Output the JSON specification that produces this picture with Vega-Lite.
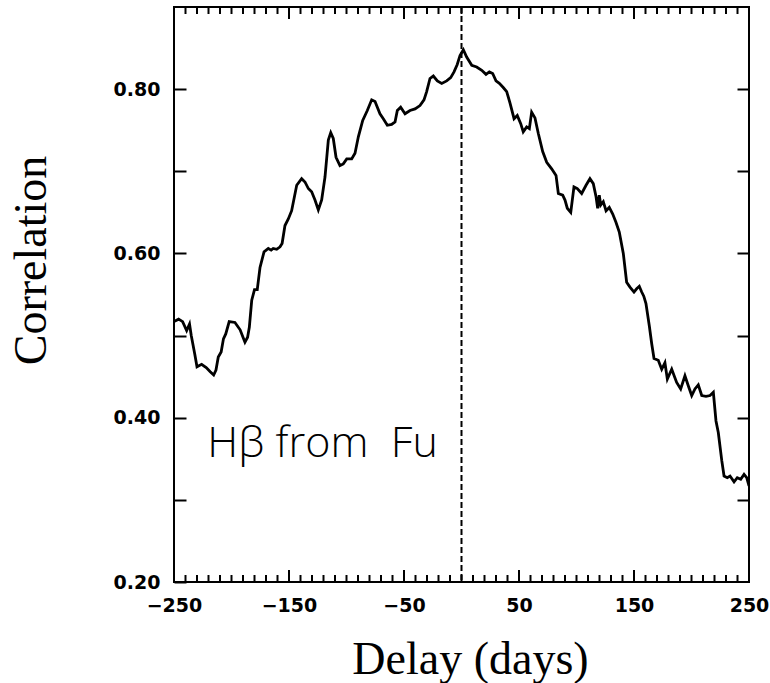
{
  "$schema": "https://vega.github.io/schema/vega-lite/v6.json",
  "width": 575,
  "height": 575,
  "autosize": {"type": "none"},
  "padding": {"left": 174, "top": 7, "right": 21, "bottom": 101},
  "background": "white",
  "view": {"stroke": "black", "strokeWidth": 2},
  "config": {
    "axis": {"grid": false, "domain": false, "tickColor": "black", "tickWidth": 2, "labelColor": "black", "titleColor": "black"}
  },
  "resolve": {"axis": {"x": "independent", "y": "independent"}},
  "datasets": {
    "xticks": [
      {"delay": -240, "kind": "minor"}, {"delay": -230, "kind": "minor"}, {"delay": -220, "kind": "minor"},
      {"delay": -210, "kind": "minor"}, {"delay": -200, "kind": "minor"}, {"delay": -190, "kind": "minor"},
      {"delay": -180, "kind": "minor"}, {"delay": -170, "kind": "minor"}, {"delay": -160, "kind": "minor"},
      {"delay": -150, "kind": "major"}, {"delay": -140, "kind": "minor"}, {"delay": -130, "kind": "minor"},
      {"delay": -120, "kind": "minor"}, {"delay": -110, "kind": "minor"}, {"delay": -100, "kind": "minor"},
      {"delay": -90, "kind": "minor"}, {"delay": -80, "kind": "minor"}, {"delay": -70, "kind": "minor"},
      {"delay": -60, "kind": "minor"}, {"delay": -50, "kind": "major"}, {"delay": -40, "kind": "minor"},
      {"delay": -30, "kind": "minor"}, {"delay": -20, "kind": "minor"}, {"delay": -10, "kind": "minor"},
      {"delay": 0, "kind": "minor"}, {"delay": 10, "kind": "minor"}, {"delay": 20, "kind": "minor"},
      {"delay": 30, "kind": "minor"}, {"delay": 40, "kind": "minor"}, {"delay": 50, "kind": "major"},
      {"delay": 60, "kind": "minor"}, {"delay": 70, "kind": "minor"}, {"delay": 80, "kind": "minor"},
      {"delay": 90, "kind": "minor"}, {"delay": 100, "kind": "minor"}, {"delay": 110, "kind": "minor"},
      {"delay": 120, "kind": "minor"}, {"delay": 130, "kind": "minor"}, {"delay": 140, "kind": "minor"},
      {"delay": 150, "kind": "major"}, {"delay": 160, "kind": "minor"}, {"delay": 170, "kind": "minor"},
      {"delay": 180, "kind": "minor"}, {"delay": 190, "kind": "minor"}, {"delay": 200, "kind": "minor"},
      {"delay": 210, "kind": "minor"}, {"delay": 220, "kind": "minor"}, {"delay": 230, "kind": "minor"},
      {"delay": 240, "kind": "minor"}
    ]
  },
  "layer": [
    {
      "data": {"values": [
        {"delay": -250, "corr": 0.517}, {"delay": -246, "corr": 0.520}, {"delay": -242.5, "corr": 0.517},
        {"delay": -239, "corr": 0.506}, {"delay": -236.5, "corr": 0.514}, {"delay": -235, "corr": 0.500},
        {"delay": -232, "corr": 0.478}, {"delay": -230, "corr": 0.462}, {"delay": -226, "corr": 0.465},
        {"delay": -222, "corr": 0.461}, {"delay": -218.5, "corr": 0.456}, {"delay": -215.5, "corr": 0.452},
        {"delay": -213.5, "corr": 0.458}, {"delay": -211.5, "corr": 0.474}, {"delay": -209, "corr": 0.480},
        {"delay": -207, "corr": 0.496}, {"delay": -205, "corr": 0.502}, {"delay": -202, "corr": 0.517},
        {"delay": -197, "corr": 0.516}, {"delay": -192.5, "corr": 0.507}, {"delay": -190, "corr": 0.498},
        {"delay": -188.3, "corr": 0.492}, {"delay": -186, "corr": 0.498}, {"delay": -184.5, "corr": 0.510},
        {"delay": -182.4, "corr": 0.543}, {"delay": -180, "corr": 0.556}, {"delay": -177.6, "corr": 0.556},
        {"delay": -175.2, "corr": 0.583}, {"delay": -171.7, "corr": 0.602}, {"delay": -168, "corr": 0.606},
        {"delay": -165.5, "corr": 0.604}, {"delay": -163.7, "corr": 0.606}, {"delay": -160.7, "corr": 0.605},
        {"delay": -157.8, "corr": 0.608}, {"delay": -156, "corr": 0.612}, {"delay": -153.5, "corr": 0.634},
        {"delay": -150.6, "corr": 0.642}, {"delay": -147.7, "corr": 0.652}, {"delay": -143.3, "corr": 0.683},
        {"delay": -139, "corr": 0.691}, {"delay": -136.1, "corr": 0.687}, {"delay": -133.2, "corr": 0.679},
        {"delay": -130.3, "corr": 0.675}, {"delay": -127.4, "corr": 0.665}, {"delay": -124.5, "corr": 0.653},
        {"delay": -121.6, "corr": 0.665}, {"delay": -118.7, "corr": 0.693}, {"delay": -115.8, "corr": 0.738},
        {"delay": -113.7, "corr": 0.747}, {"delay": -111.5, "corr": 0.740}, {"delay": -109.1, "corr": 0.717},
        {"delay": -105.7, "corr": 0.707}, {"delay": -102.8, "corr": 0.709}, {"delay": -99.8, "corr": 0.715},
        {"delay": -95.5, "corr": 0.715}, {"delay": -92.6, "corr": 0.722}, {"delay": -89.7, "corr": 0.742},
        {"delay": -85.9, "corr": 0.762}, {"delay": -81.9, "corr": 0.774}, {"delay": -78.1, "corr": 0.787},
        {"delay": -75.2, "corr": 0.785}, {"delay": -70.9, "corr": 0.770}, {"delay": -68, "corr": 0.764},
        {"delay": -64.5, "corr": 0.756}, {"delay": -60.7, "corr": 0.757}, {"delay": -57.8, "corr": 0.760},
        {"delay": -55.8, "corr": 0.774}, {"delay": -52.9, "corr": 0.778}, {"delay": -49.1, "corr": 0.770},
        {"delay": -44.8, "corr": 0.774}, {"delay": -40.4, "corr": 0.776}, {"delay": -36.1, "corr": 0.780},
        {"delay": -32.6, "corr": 0.787}, {"delay": -30.3, "corr": 0.797}, {"delay": -27.4, "corr": 0.813},
        {"delay": -24.5, "corr": 0.816}, {"delay": -21, "corr": 0.810}, {"delay": -17.2, "corr": 0.807},
        {"delay": -12.9, "corr": 0.810}, {"delay": -9.4, "corr": 0.814}, {"delay": -6.5, "corr": 0.821},
        {"delay": -3.7, "corr": 0.830}, {"delay": -1.3, "corr": 0.841}, {"delay": 1.6, "corr": 0.848},
        {"delay": 4.5, "corr": 0.839}, {"delay": 8.9, "corr": 0.829}, {"delay": 13.2, "corr": 0.827},
        {"delay": 17.6, "corr": 0.823}, {"delay": 21.3, "corr": 0.818}, {"delay": 24.2, "corr": 0.821},
        {"delay": 27.1, "corr": 0.819}, {"delay": 30, "corr": 0.810}, {"delay": 32.9, "corr": 0.807},
        {"delay": 36.3, "corr": 0.802}, {"delay": 39.3, "corr": 0.797}, {"delay": 42.2, "corr": 0.783},
        {"delay": 45.7, "corr": 0.764}, {"delay": 48.5, "corr": 0.768}, {"delay": 51.5, "corr": 0.758},
        {"delay": 53.7, "corr": 0.748}, {"delay": 56.7, "corr": 0.754}, {"delay": 59, "corr": 0.752},
        {"delay": 61, "corr": 0.772}, {"delay": 63.9, "corr": 0.765}, {"delay": 66.8, "corr": 0.746},
        {"delay": 70.6, "corr": 0.724}, {"delay": 74.1, "corr": 0.711}, {"delay": 78.4, "corr": 0.703},
        {"delay": 82.2, "corr": 0.695}, {"delay": 84.2, "corr": 0.673}, {"delay": 88, "corr": 0.671},
        {"delay": 90, "corr": 0.665}, {"delay": 92, "corr": 0.655}, {"delay": 95, "corr": 0.650},
        {"delay": 97.8, "corr": 0.681}, {"delay": 100.7, "corr": 0.679}, {"delay": 104.5, "corr": 0.673},
        {"delay": 108.3, "corr": 0.683}, {"delay": 111.7, "corr": 0.691}, {"delay": 114.6, "corr": 0.685},
        {"delay": 117, "corr": 0.669}, {"delay": 118.4, "corr": 0.655}, {"delay": 119.8, "corr": 0.671},
        {"delay": 121.1, "corr": 0.659}, {"delay": 123.3, "corr": 0.663}, {"delay": 125.7, "corr": 0.652},
        {"delay": 128.5, "corr": 0.656}, {"delay": 131.5, "corr": 0.648}, {"delay": 134.3, "corr": 0.638},
        {"delay": 137.2, "corr": 0.626}, {"delay": 140.7, "corr": 0.600}, {"delay": 143.6, "corr": 0.565},
        {"delay": 146.5, "corr": 0.559}, {"delay": 150, "corr": 0.553}, {"delay": 152.3, "corr": 0.557},
        {"delay": 154.6, "corr": 0.560}, {"delay": 156.7, "corr": 0.553}, {"delay": 158.5, "corr": 0.548},
        {"delay": 160.4, "corr": 0.539}, {"delay": 163.3, "corr": 0.512}, {"delay": 165.4, "corr": 0.490},
        {"delay": 167.4, "corr": 0.472}, {"delay": 171.1, "corr": 0.470}, {"delay": 174.1, "corr": 0.459},
        {"delay": 176.9, "corr": 0.467}, {"delay": 179, "corr": 0.447}, {"delay": 182.8, "corr": 0.459},
        {"delay": 187.1, "corr": 0.443}, {"delay": 190.6, "corr": 0.435}, {"delay": 194.3, "corr": 0.451},
        {"delay": 197.2, "corr": 0.439}, {"delay": 200.2, "corr": 0.427}, {"delay": 203, "corr": 0.435},
        {"delay": 205.9, "corr": 0.440}, {"delay": 208.9, "corr": 0.427}, {"delay": 212.6, "corr": 0.426},
        {"delay": 216.1, "corr": 0.427}, {"delay": 219, "corr": 0.431}, {"delay": 221.3, "corr": 0.396},
        {"delay": 223.3, "corr": 0.382}, {"delay": 226.3, "corr": 0.348}, {"delay": 228.3, "corr": 0.329},
        {"delay": 231.1, "corr": 0.327}, {"delay": 233.5, "corr": 0.329}, {"delay": 237, "corr": 0.322},
        {"delay": 239.8, "corr": 0.327}, {"delay": 242.8, "corr": 0.325}, {"delay": 245.7, "corr": 0.331},
        {"delay": 248, "corr": 0.327}, {"delay": 250, "corr": 0.317}
      ]},
      "mark": {"type": "line", "color": "black", "strokeWidth": 2.8, "clip": true},
      "encoding": {
        "x": {
          "field": "delay", "type": "quantitative",
          "scale": {"domain": [-250, 250], "nice": false, "zero": false},
          "axis": {
            "orient": "bottom",
            "values": [-250, -150, -50, 50, 150, 250],
            "ticks": false,
            "labelPadding": 14,
            "labelFlush": false,
            "labelOverlap": false,
            "labelFont": "DejaVu Sans",
            "labelFontWeight": "bold",
            "labelFontSize": 19,
            "title": "Delay (days)",
            "titleFont": "Liberation Serif",
            "titleFontSize": 46,
            "titleFontWeight": "normal",
            "titleX": 296,
            "titleY": 91,
            "titleAlign": "center",
            "titleBaseline": "alphabetic"
          }
        },
        "y": {
          "field": "corr", "type": "quantitative",
          "scale": {"domain": [0.2, 0.9], "nice": false, "zero": false},
          "axis": {
            "orient": "left",
            "values": [0.2, 0.3, 0.4, 0.5, 0.6, 0.7, 0.8],
            "tickSize": -12,
            "labelExpr": "round(datum.value * 10) % 2 == 0 ? format(datum.value, '.2f') : ''",
            "labelPadding": 26,
            "labelOverlap": false,
            "labelFont": "DejaVu Sans",
            "labelFontWeight": "bold",
            "labelFontSize": 19,
            "title": "Correlation",
            "titleFont": "Liberation Serif",
            "titleFontSize": 46,
            "titleFontWeight": "normal",
            "titleAngle": 270,
            "titleX": -129,
            "titleY": 253,
            "titleAlign": "center",
            "titleBaseline": "alphabetic"
          }
        }
      }
    },
    {
      "data": {"values": [{"delay": -221, "corr": 0.3516, "label": "Hβ from\u00a0 Fu"}]},
      "mark": {"type": "text", "align": "left", "baseline": "alphabetic", "font": "Open Sans", "fontWeight": 300, "fontSize": 43, "color": "black"},
      "encoding": {
        "x": {
          "field": "delay", "type": "quantitative",
          "scale": {"domain": [-250, 250], "nice": false, "zero": false},
          "axis": null
        },
        "y": {
          "field": "corr", "type": "quantitative",
          "scale": {"domain": [0.2, 0.9], "nice": false, "zero": false},
          "axis": {
            "orient": "right",
            "values": [0.3, 0.4, 0.5, 0.6, 0.7, 0.8],
            "tickSize": -12,
            "labels": false,
            "title": null
          }
        },
        "text": {"field": "label"}
      }
    },
    {
      "data": {"values": [{"delay": 0}]},
      "mark": {"type": "rule", "color": "black", "strokeWidth": 2, "strokeDash": [6, 3]},
      "encoding": {
        "x": {
          "field": "delay", "type": "quantitative",
          "scale": {"domain": [-250, 250], "nice": false, "zero": false},
          "axis": null
        }
      }
    },
    {
      "data": {"name": "xticks"},
      "transform": [{"filter": "datum.kind == 'minor'"}],
      "mark": {"type": "rule", "color": "black", "strokeWidth": 2},
      "encoding": {
        "x": {"field": "delay", "type": "quantitative", "axis": null},
        "y": {"datum": 0.2, "type": "quantitative", "axis": null},
        "y2": {"datum": 0.2085}
      }
    },
    {
      "data": {"name": "xticks"},
      "transform": [{"filter": "datum.kind == 'major'"}],
      "mark": {"type": "rule", "color": "black", "strokeWidth": 2},
      "encoding": {
        "x": {"field": "delay", "type": "quantitative", "axis": null},
        "y": {"datum": 0.2, "type": "quantitative", "axis": null},
        "y2": {"datum": 0.2146}
      }
    },
    {
      "data": {"name": "xticks"},
      "transform": [{"filter": "datum.kind == 'minor'"}],
      "mark": {"type": "rule", "color": "black", "strokeWidth": 2},
      "encoding": {
        "x": {"field": "delay", "type": "quantitative", "axis": null},
        "y": {"datum": 0.9, "type": "quantitative", "axis": null},
        "y2": {"datum": 0.8915}
      }
    },
    {
      "data": {"name": "xticks"},
      "transform": [{"filter": "datum.kind == 'major'"}],
      "mark": {"type": "rule", "color": "black", "strokeWidth": 2},
      "encoding": {
        "x": {"field": "delay", "type": "quantitative", "axis": null},
        "y": {"datum": 0.9, "type": "quantitative", "axis": null},
        "y2": {"datum": 0.8854}
      }
    }
  ]
}
